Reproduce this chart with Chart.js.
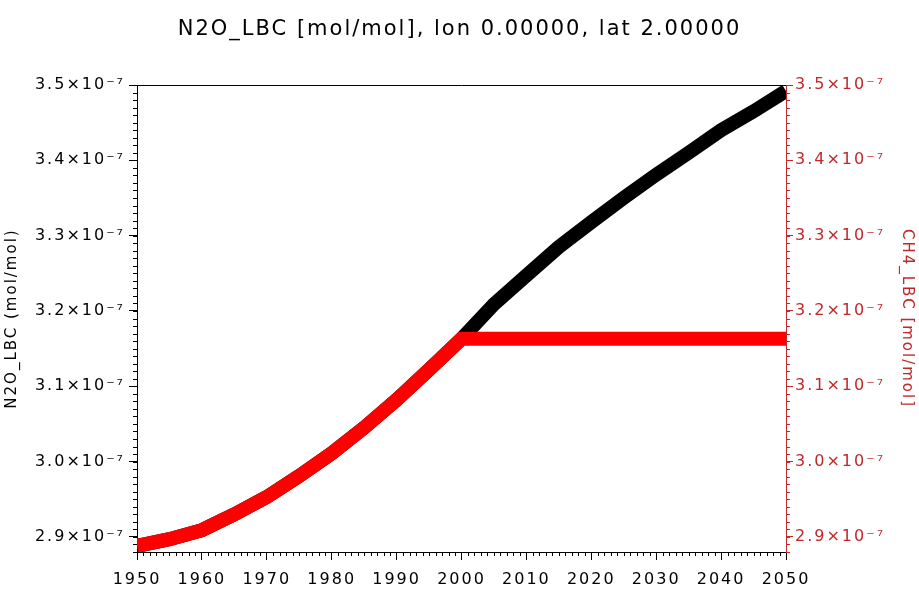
<!DOCTYPE html>
<html>
<head>
<meta charset="utf-8">
<script src="https://cdn.jsdelivr.net/npm/chart.js@4"></script>
<style>
  html, body { margin: 0; padding: 0; background: #fff; }
  #wrap { width: 919px; height: 591px; }
</style>
</head>
<body>
<div id="wrap"><canvas id="lbcChart" width="919" height="591"></canvas></div>
<script>
// values, every 5 years
const years = [1950, 1955, 1960, 1965, 1970, 1975, 1980, 1985, 1990, 1995, 2000,
               2005, 2010, 2015, 2020, 2025, 2030, 2035, 2040, 2045, 2050];
const n2oValues = [2.888e-7, 2.897e-7, 2.909e-7, 2.930e-7, 2.953e-7, 2.981e-7, 3.011e-7,
                   3.045e-7, 3.082e-7, 3.122e-7, 3.163e-7, 3.209e-7, 3.247e-7, 3.285e-7,
                   3.318e-7, 3.350e-7, 3.381e-7, 3.410e-7, 3.440e-7, 3.465e-7, 3.492e-7];
const ch4Values = [2.888e-7, 2.897e-7, 2.909e-7, 2.930e-7, 2.953e-7, 2.981e-7, 3.011e-7,
                   3.045e-7, 3.082e-7, 3.122e-7, 3.163e-7, 3.163e-7, 3.163e-7, 3.163e-7,
                   3.163e-7, 3.163e-7, 3.163e-7, 3.163e-7, 3.163e-7, 3.163e-7, 3.163e-7];

const xTickValues = [1950, 1960, 1970, 1980, 1990, 2000, 2010, 2020, 2030, 2040, 2050];
const yTickValues = [2.9e-7, 3.0e-7, 3.1e-7, 3.2e-7, 3.3e-7, 3.4e-7, 3.5e-7];
const yTickLabels = ['2.9×10⁻⁷', '3.0×10⁻⁷', '3.1×10⁻⁷', '3.2×10⁻⁷', '3.3×10⁻⁷', '3.4×10⁻⁷', '3.5×10⁻⁷'];

const axisRed = '#c0282a';
const fontFamily = '"DejaVu Sans", sans-serif';

// the original plot font is wide, so space the letters out a bit
const wideText = {
  id: 'wideText',
  beforeUpdate(chart) { chart.ctx.letterSpacing = '2px'; },
  beforeDraw(chart) { chart.ctx.letterSpacing = '2px'; }
};

// minor ticks + top frame line
const minorTicks = {
  id: 'minorTicks',
  afterDraw(chart) {
    const ctx = chart.ctx;
    const area = chart.chartArea;
    const x = chart.scales.x, y = chart.scales.y, y2 = chart.scales.y2;
    ctx.save();
    ctx.lineWidth = 1;
    ctx.strokeStyle = '#000';
    ctx.beginPath();
    for (let yr = 1950; yr <= 2050; yr++) {
      if (yr % 10 === 0) continue;
      const px = Math.round(x.getPixelForValue(yr)) + 0.5;
      ctx.moveTo(px, area.bottom);
      ctx.lineTo(px, area.bottom + 4);
    }
    for (let i = 0; i <= 62; i++) {
      const v = 2.88e-7 + i * 0.01e-7;
      const py = Math.round(y.getPixelForValue(v)) + 0.5;
      ctx.moveTo(area.left - 4, py);
      ctx.lineTo(area.left, py);
    }
    // top frame
    ctx.moveTo(area.left, area.top + 0.5);
    ctx.lineTo(area.right, area.top + 0.5);
    ctx.stroke();

    ctx.strokeStyle = axisRed;
    ctx.beginPath();
    for (let i = 0; i <= 62; i++) {
      const v = 2.88e-7 + i * 0.01e-7;
      const py = Math.round(y2.getPixelForValue(v)) + 0.5;
      ctx.moveTo(area.right, py);
      ctx.lineTo(area.right + 4, py);
    }
    ctx.stroke();
    ctx.restore();
  }
};

const ctx = document.getElementById('lbcChart').getContext('2d');
new Chart(ctx, {
  type: 'line',
  data: {
    labels: years,
    datasets: [
      {
        label: 'CH4_LBC',
        data: years.map((yr, i) => ({ x: yr, y: ch4Values[i] })),
        yAxisID: 'y2',
        borderColor: '#ff0000',
        borderWidth: 14,
        pointRadius: 0,
        tension: 0,
        clip: 0
      },
      {
        label: 'N2O_LBC',
        data: years.map((yr, i) => ({ x: yr, y: n2oValues[i] })),
        yAxisID: 'y',
        borderColor: '#000000',
        borderWidth: 14,
        pointRadius: 0,
        tension: 0,
        clip: 0
      }
    ]
  },
  options: {
    responsive: false,
    animation: false,
    layout: { padding: 0 },
    plugins: {
      legend: { display: false },
      tooltip: { enabled: false },
      title: {
        display: true,
        text: 'N2O_LBC [mol/mol], lon 0.00000, lat 2.00000',
        color: '#000',
        font: { family: fontFamily, size: 21, weight: 'normal' },
        padding: { top: 17, bottom: 42.8 }
      }
    },
    scales: {
      x: {
        type: 'linear',
        min: 1950,
        max: 2050,
        afterBuildTicks: s => { s.ticks = xTickValues.map(v => ({ value: v })); },
        afterFit: s => { s.height = 39; },
        ticks: {
          color: '#000',
          font: { family: fontFamily, size: 16 },
          padding: 10,
          maxRotation: 0,
          callback: v => String(v)
        },
        grid: { drawOnChartArea: false, drawTicks: true, tickLength: 8, color: '#000' },
        border: { display: true, color: '#000', width: 1 }
      },
      y: {
        type: 'linear',
        position: 'left',
        min: 2.88e-7,
        max: 3.5e-7,
        afterBuildTicks: s => { s.ticks = yTickValues.map(v => ({ value: v })); },
        afterFit: s => { s.width = 137; },
        ticks: {
          color: '#000',
          font: { family: fontFamily, size: 16 },
          padding: 4,
          callback: (v, i) => yTickLabels[i]
        },
        grid: { drawOnChartArea: false, drawTicks: true, tickLength: 8, color: '#000' },
        border: { display: true, color: '#000', width: 1 },
        title: {
          display: true,
          text: 'N2O_LBC (mol/mol)',
          color: '#000',
          font: { family: fontFamily, size: 15 },
          padding: { top: 3, bottom: 0 }
        }
      },
      y2: {
        type: 'linear',
        position: 'right',
        min: 2.88e-7,
        max: 3.5e-7,
        afterBuildTicks: s => { s.ticks = yTickValues.map(v => ({ value: v })); },
        afterFit: s => { s.width = 133; },
        ticks: {
          color: axisRed,
          font: { family: fontFamily, size: 16 },
          padding: 2,
          callback: (v, i) => yTickLabels[i]
        },
        grid: { drawOnChartArea: false, drawTicks: true, tickLength: 7, color: axisRed },
        border: { display: true, color: axisRed, width: 1 },
        title: {
          display: true,
          text: 'CH4_LBC [mol/mol]',
          color: axisRed,
          font: { family: fontFamily, size: 15 },
          padding: { top: 3, bottom: 0 }
        }
      }
    }
  },
  plugins: [wideText, minorTicks]
});
</script>
</body>
</html>
